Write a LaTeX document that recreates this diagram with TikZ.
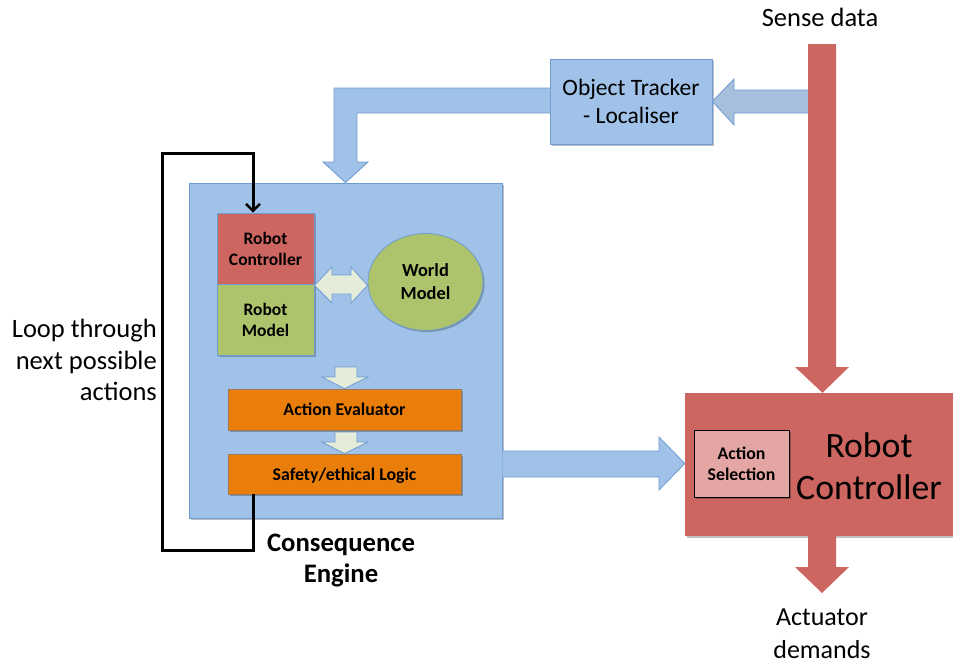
\documentclass[tikz,border=0pt]{standalone}
\usepackage{fontspec}
\setmainfont{Carlito}
\usetikzlibrary{arrows.meta,shapes.geometric,calc,shadows}
\definecolor{cblue}{HTML}{A0C2E8}
\definecolor{cblueline}{HTML}{6E9BD0}
\definecolor{csense}{HTML}{A6BFDD}
\definecolor{cred}{HTML}{CD6660}
\definecolor{cgreen}{HTML}{AEC46C}
\definecolor{corange}{HTML}{EA7E0A}
\definecolor{clight}{HTML}{E6ECDA}
\definecolor{cpink}{HTML}{E3A6A4}
\begin{document}
\begin{tikzpicture}[x=1pt,y=-1pt,
  shad/.style={drop shadow={shadow xshift=1.5pt,shadow yshift=-1.5pt,opacity=0.25,fill=black}},
  box/.style={draw=cblueline,line width=0.8pt,inner sep=0pt,align=center,shad},
  blockarrow/.style={draw=cblueline,line width=0.8pt,line join=miter},
  redarrow/.style={fill=cred,draw=none},
  txt/.style={inner sep=0pt,align=center,font=\fontsize{26.5}{32}\selectfont},
  small/.style={font=\bfseries\fontsize{17.5}{21}\selectfont}]
\useasboundingbox (0,0) rectangle (953,665);

% main boxes
\node[box,fill=cblue,minimum width=313pt,minimum height=335pt] (ce) at (345.5,350.5) {};
\node[box,fill=cblue,minimum width=162pt,minimum height=85pt,
      font=\fontsize{23.5}{28}\selectfont] (ot) at (631,101.5) {Object Tracker\\- Localiser};
\node[fill=cred,draw=none,minimum width=275pt,minimum height=143pt,inner sep=0pt,shad] (big) at (822.5,464.5) {};
\node[txt,font=\fontsize{35.7}{42}\selectfont] (bigtxt) at (869,466) {Robot\\Controller};
\node[draw=black,line width=1pt,fill=cpink,minimum width=95pt,minimum height=67pt,inner sep=0pt,align=center,shad,
      font=\bfseries\fontsize{17.8}{21}\selectfont] (as) at (741.5,463.5) {Action\\Selection};

% inner boxes
\node[box,fill=cred,minimum width=97pt,minimum height=72pt,small] (rc) at (265.5,249) {Robot\\Controller};
\node[box,fill=cgreen,minimum width=97pt,minimum height=71pt,small] (rm) at (265.5,320) {Robot\\Model};
\node[ellipse,box,fill=cgreen,minimum width=115pt,minimum height=97pt,
      font=\bfseries\fontsize{18.4}{23}\selectfont] (wm) at (425.5,282) {World\\Model};
\node[draw=corange!80!black!60!cblueline,line width=0.8pt,inner sep=0pt,shad,fill=corange,minimum width=233pt,minimum height=41pt,
      text depth=0pt,font=\bfseries\fontsize{17.9}{20}\selectfont] (ae) at (344.5,409.5) {Action Evaluator};
\node[draw=corange!80!black!60!cblueline,line width=0.8pt,inner sep=0pt,shad,fill=corange,minimum width=233pt,minimum height=40pt,
      text depth=0pt,font=\bfseries\fontsize{17.8}{20}\selectfont] (sl) at (344.5,474) {Safety/ethical Logic};

% texts
\node[txt] (sense) at (820,17) {Sense data};
\node[txt,anchor=east,align=right,font=\fontsize{26.5}{31.5}\selectfont] (loop) at (157,360) {Loop through\\next possible\\actions};
\node[txt,font=\bfseries\fontsize{26.7}{31}\selectfont] (cons) at (341,560.5) {Consequence\\Engine};
\node[txt,font=\fontsize{26}{33}\selectfont] (act) at (822,634) {Actuator\\demands};

% sense -> tracker arrow (behind red bar)
\draw[blockarrow,fill=csense] (808,90) -- (734,90) -- (734,79) -- (ot.east) -- (734,125) -- (734,113) -- (808,113);
% red sense arrow
\fill[redarrow] (808,44) -- (836,44) -- (836,367) -- (849,367) -- (big.north) -- (795,367) -- (808,367) -- cycle;
% tracker -> consequence engine elbow arrow
\draw[blockarrow,fill=cblue] (550,88) -- (334,88) -- (334,162) -- (323,162) -- (ce.north) -- (368,162) -- (357,162) -- (357,113) -- (550,113);
% double arrow robot model <-> world model
\draw[blockarrow,fill=clight] (rc.south east) -- (332,267) -- (332,275) -- (351,275) -- (351,267) -- (wm.west |- rc.south) -- (351,303) -- (351,294) -- (332,294) -- (332,303) -- cycle;
% down arrows
\draw[blockarrow,fill=clight] (335,367) -- (357,367) -- (357,377) -- (368,377) -- (ae.north) -- (322,377) -- (335,377) -- cycle;
\draw[blockarrow,fill=clight] (335,432) -- (357,432) -- (357,442) -- (368,442) -- (sl.north) -- (322,442) -- (335,442) -- cycle;
% CE -> robot controller
\draw[blockarrow,fill=cblue] (ce.east |- 0,451) -- (659,451) -- (659,437) -- (big.west |- as.west) -- (659,490) -- (659,477) -- (ce.east |- 0,477);
% output arrow
\fill[redarrow] (808,536) -- (836,536) -- (836,567) -- (849,567) -- (822,593) -- (795,567) -- (808,567) -- cycle;

% loop
\coordinate (l1) at (253,550);
\coordinate (l2) at (162,550);
\coordinate (l3) at (162,153);
\coordinate (l4) at (253,153);
\draw[line width=3pt,line join=miter,-{Straight Barb[length=7pt,width=14pt,line width=2.5pt]}]
  (sl.south -| l1) -- (l1) -- (l2) -- (l3) -- (l4) -- (rc.north -| l4);
\end{tikzpicture}
\end{document}
